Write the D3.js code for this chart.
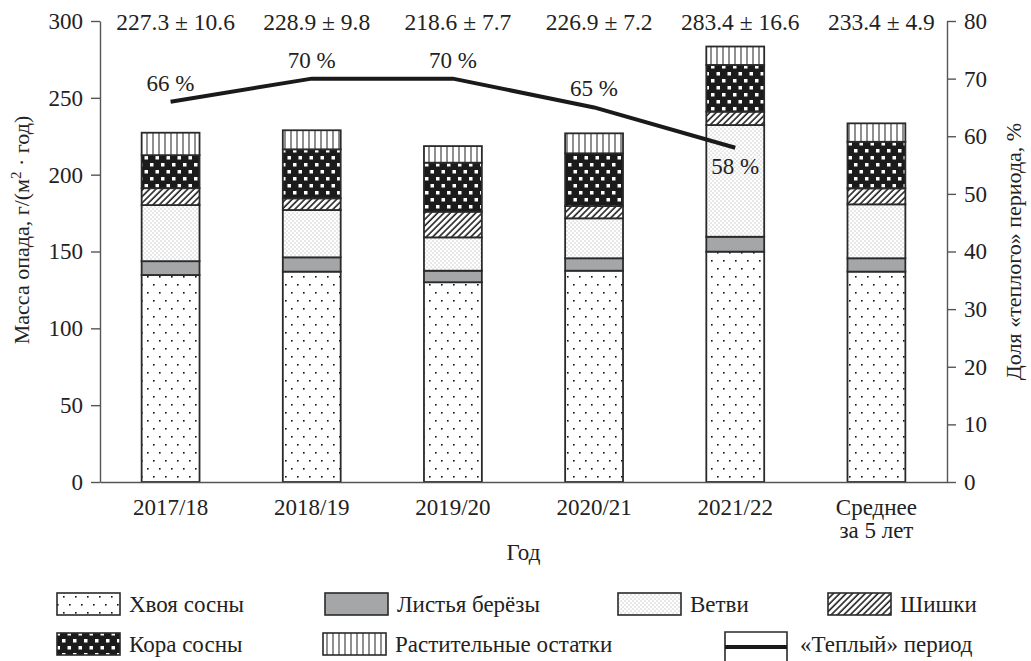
<!DOCTYPE html>
<html>
<head>
<meta charset="UTF-8">
<title>Масса опада</title>
<script src="https://d3js.org/d3.v7.min.js"></script>
<style>
  body { margin: 0; background: #fff; }
  svg { display: block; }
  svg text { font-family: "Liberation Serif", "Times New Roman", "DejaVu Serif", serif; }
</style>
</head>
<body>
<div id="chart"></div>
<script>
// data
const years = ["2017/18", "2018/19", "2019/20", "2020/21", "2021/22", "Среднее за 5 лет"];
const khvoya  = [134.7, 136.9, 130.0, 137.5, 149.9, 136.9];
const listya  = [9.0, 9.3, 7.5, 8.1, 9.7, 8.7];
const vetvi   = [36.5, 30.8, 21.7, 26.0, 72.7, 35.1];
const shishki = [11.0, 7.6, 16.7, 8.0, 8.7, 10.4];
const kora    = [21.5, 31.9, 31.9, 34.3, 30.4, 30.3];
const ostatki = [14.6, 12.4, 10.8, 13.0, 12.0, 12.0];
const totals  = ["227.3 ± 10.6", "228.9 ± 9.8", "218.6 ± 7.7", "226.9 ± 7.2", "283.4 ± 16.6", "233.4 ± 4.9"];
const warmShare = [66, 70, 70, 65, 58];
const leftTicks = [0, 50, 100, 150, 200, 250, 300];
const rightTicks = [0, 10, 20, 30, 40, 50, 60, 70, 80];
const seriesNames = ["Хвоя сосны", "Листья берёзы", "Ветви", "Шишки", "Кора сосны", "Растительные остатки"];

const W = 1031, H = 661;
const mLeft = 100, mRight = 947, mTop = 21, mBottom = 482;
const serif = "Liberation Serif";

const svg = d3.select("#chart").append("svg")
    .attr("width", W).attr("height", H)
    .attr("viewBox", [0, 0, W, H])
    .attr("font-family", serif);

// fill patterns
const defs = svg.append("defs");
function pattern(id, w, h, bg) {
    const p = defs.append("pattern").attr("id", id)
        .attr("patternUnits", "userSpaceOnUse")
        .attr("width", w).attr("height", h);
    p.append("rect").attr("width", w).attr("height", h).attr("fill", bg);
    return p;
}
let p = pattern("p0", 12, 16, "#fff");
p.append("rect").attr("x", 3).attr("y", 4).attr("width", 1.6).attr("height", 1.6).attr("fill", "#111");
p.append("rect").attr("x", 9).attr("y", 12).attr("width", 1.6).attr("height", 1.6).attr("fill", "#111");

p = pattern("p1", 4, 4, "#a5a6a8");

p = pattern("p2", 4, 4, "#fff");
p.append("rect").attr("x", 0.5).attr("y", 0.5).attr("width", 1.1).attr("height", 1.1).attr("fill", "#b5b5b5");
p.append("rect").attr("x", 2.5).attr("y", 2.5).attr("width", 1.1).attr("height", 1.1).attr("fill", "#b5b5b5");

p = pattern("p3", 4.5, 4.5, "#fff").attr("patternTransform", "rotate(45)");
p.append("line").attr("x1", 1).attr("x2", 1).attr("y1", 0).attr("y2", 4.5)
    .attr("stroke", "#222").attr("stroke-width", 1.6);

p = pattern("p4", 11, 14, "#1b1b1b");
p.append("rect").attr("x", 1.5).attr("y", 2).attr("width", 3.5).attr("height", 3.5).attr("fill", "#fff");
p.append("rect").attr("x", 7).attr("y", 9).attr("width", 3.5).attr("height", 3.5).attr("fill", "#fff");

p = pattern("p5", 6, 6, "#fff");
p.append("line").attr("x1", 3).attr("x2", 3).attr("y1", 0).attr("y2", 6)
    .attr("stroke", "#333").attr("stroke-width", 1.1);

const fills = ["url(#p0)", "url(#p1)", "url(#p2)", "url(#p3)", "url(#p4)", "url(#p5)"];

// scales
const x = d3.scaleBand().domain(years).range([mLeft, mRight])
    .paddingInner(0.59).paddingOuter(0.295);
const y = d3.scaleLinear().domain([0, 300]).range([mBottom, mTop]);
const y2 = d3.scaleLinear().domain([0, 80]).range([mBottom, mTop]);

const table = years.map((yr, i) => ({
    year: yr,
    s0: khvoya[i], s1: listya[i], s2: vetvi[i], s3: shishki[i], s4: kora[i], s5: ostatki[i]
}));
const keys = ["s0", "s1", "s2", "s3", "s4", "s5"];
const stacked = d3.stack().keys(keys)(table);

// bars
svg.append("g").selectAll("g").data(stacked).join("g")
    .attr("fill", (d, i) => fills[i])
    .selectAll("rect").data(d => d).join("rect")
    .attr("x", d => x(d.data.year))
    .attr("width", x.bandwidth())
    .attr("y", d => y(d[1]))
    .attr("height", d => y(d[0]) - y(d[1]))
    .attr("stroke", "#2a2a2a")
    .attr("stroke-width", 1.8);

// axes
const axisColor = "#555";
const gl = svg.append("g").attr("transform", `translate(${mLeft},0)`)
    .call(d3.axisLeft(y).tickValues(leftTicks).tickSize(9).tickSizeOuter(0).tickPadding(8));
const gr = svg.append("g").attr("transform", `translate(${mRight},0)`)
    .call(d3.axisRight(y2).tickValues(rightTicks).tickSize(9).tickSizeOuter(0).tickPadding(8));
const gb = svg.append("g").attr("transform", `translate(0,${mBottom})`)
    .call(d3.axisBottom(x).tickSize(0).tickSizeOuter(0).tickFormat(""));
[gl, gr, gb].forEach(g => {
    g.attr("font-family", serif).attr("font-size", 23);
    g.select(".domain").attr("stroke", axisColor).attr("stroke-width", 1.4);
    g.selectAll(".tick line").attr("stroke", axisColor).attr("stroke-width", 1.4);
    g.selectAll("text").attr("fill", "#222");
});

// category labels
const cat = svg.append("g").selectAll("text").data(years).join("text")
    .attr("x", d => x(d) + x.bandwidth() / 2)
    .attr("y", 515)
    .attr("text-anchor", "middle")
    .attr("font-size", 23).attr("fill", "#222");
cat.each(function (d) {
    const parts = d.split(" ");
    const t = d3.select(this);
    if (parts.length === 1) { t.text(d); return; }
    t.append("tspan").attr("x", x(d) + x.bandwidth() / 2).text(parts[0]);
    t.append("tspan").attr("x", x(d) + x.bandwidth() / 2).attr("dy", 23).text(parts.slice(1).join(" "));
});

// totals above bars
svg.append("g").selectAll("text").data(totals).join("text")
    .attr("x", (d, i) => x(years[i]) + x.bandwidth() / 2 + 5)
    .attr("y", 30)
    .attr("text-anchor", "middle")
    .attr("font-size", 23.5).attr("fill", "#222")
    .text(d => d);

// warm period line
const cx = i => x(years[i]) + x.bandwidth() / 2;
svg.append("path")
    .datum(warmShare)
    .attr("fill", "none")
    .attr("stroke", "#1a1a1a")
    .attr("stroke-width", 4)
    .attr("d", d3.line().x((d, i) => cx(i)).y(d => y2(d)));

svg.append("g").selectAll("text").data(warmShare).join("text")
    .attr("x", (d, i) => cx(i))
    .attr("y", (d, i) => i === warmShare.length - 1 ? y2(d) + 26 : y2(d) - 11)
    .attr("text-anchor", "middle")
    .attr("font-size", 23).attr("fill", "#222")
    .text(d => d + " %");

// axis titles
const lt = svg.append("text")
    .attr("transform", "translate(29,230) rotate(-90)")
    .attr("text-anchor", "middle")
    .attr("font-size", 22).attr("fill", "#222");
lt.append("tspan").text("Масса опада, г/(м");
lt.append("tspan").attr("dy", -8).attr("font-size", 15).text("2");
lt.append("tspan").attr("dy", 8).text(" · год)");

svg.append("text")
    .attr("transform", `translate(1021,${(mTop + mBottom) / 2}) rotate(-90)`)
    .attr("text-anchor", "middle")
    .attr("font-size", 22).attr("fill", "#222")
    .text("Доля «теплого» периода, %");

svg.append("text")
    .attr("x", (mLeft + mRight) / 2).attr("y", 560)
    .attr("text-anchor", "middle")
    .attr("font-size", 23).attr("fill", "#222")
    .text("Год");

// legend
const legendPos = [[57, 593], [325, 593], [618, 593], [828, 593], [57, 633], [323, 633]];
const lg = svg.append("g");
seriesNames.forEach((name, i) => {
    const [lx, ly] = legendPos[i];
    lg.append("rect").attr("x", lx).attr("y", ly).attr("width", 63).attr("height", 22)
        .attr("fill", fills[i]).attr("stroke", "#2a2a2a").attr("stroke-width", 1.6);
    lg.append("text").attr("x", lx + 72).attr("y", ly + 19)
        .attr("font-size", 23).attr("fill", "#222").text(name);
});
// line legend item
lg.append("path").attr("d", "M725,661V632H787V661")
    .attr("fill", "none").attr("stroke", "#2a2a2a").attr("stroke-width", 1.6);
lg.append("line").attr("x1", 725).attr("x2", 787).attr("y1", 647).attr("y2", 647)
    .attr("stroke", "#1a1a1a").attr("stroke-width", 4);
lg.append("text").attr("x", 800).attr("y", 652)
    .attr("font-size", 23).attr("fill", "#222").text("«Теплый» период");
</script>
</body>
</html>
